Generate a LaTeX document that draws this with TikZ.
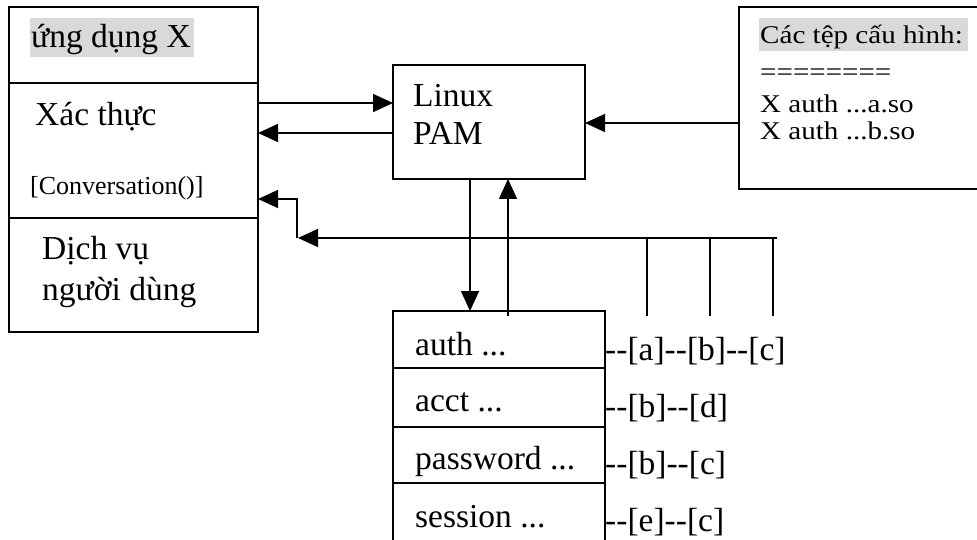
\documentclass[tikz,border=0pt]{standalone}
\usepackage{fontspec}
\setmainfont{Liberation Serif}
\newfontfamily\cfgfont[FakeStretch=1.14]{Liberation Serif}
\usetikzlibrary{arrows.meta}
\definecolor{hl}{HTML}{D9D9D9}
\begin{document}
\begin{tikzpicture}[x=1pt,y=-1pt,
  box/.style={draw, line width=1.6pt, anchor=north west, inner sep=0pt, outer sep=0pt},
  hlbox/.style={fill=hl, anchor=north west, inner sep=0pt, outer sep=0pt},
  txt/.style={anchor=base west, inner sep=0pt, font=\fontsize{33.5}{38}\selectfont},
  small/.style={anchor=base west, inner sep=0pt, font=\fontsize{26}{30}\selectfont},
  cfg/.style={anchor=base west, inner sep=0pt, font=\cfgfont\fontsize{25.5}{28}\selectfont},
  wire/.style={line width=1.6pt},
  arr/.style={wire, -{Triangle[length=20pt,width=18pt]}},
]
\useasboundingbox (0,0) rectangle (977,540);

% application X: three stacked sections
\node[box, minimum width=249pt, minimum height=76pt]  (apptitle) at (9,7) {};
\node[box, minimum width=249pt, minimum height=135pt] (appauth)  at (9,83) {};
\node[box, minimum width=249pt, minimum height=114pt] (appsvc)   at (9,218) {};
\node[hlbox, minimum width=164pt, minimum height=39pt] (apphl) at (30,18) {};
\node[txt] (appname) at (31,48) {ứng dụng X};
\node[txt] (authtxt) at (35,126) {Xác thực};
\node[small] (convtxt) at (30,195) {[Conversation()]};
\node[txt] (svc1) at (42,259) {Dịch vụ};
\node[txt] (svc2) at (42,300) {người dùng};

% Linux PAM
\node[box, minimum width=192pt, minimum height=114pt] (pam) at (393,65) {};
\node[txt] (pam1) at (413,107) {Linux};
\node[txt] (pam2) at (413,145) {PAM};

% configuration files
\node[box, minimum width=260pt, minimum height=182pt] (cfgbox) at (739,7) {};
\node[hlbox, minimum width=209pt, minimum height=33pt] (cfghl) at (759,18) {};
\node[cfg] (cfg1) at (760,44) {Các tệp cấu hình:};
\node[cfg] (cfg2) at (760,81) {========};
\node[cfg] (cfg3) at (760,113) {X auth ...a.so};
\node[cfg] (cfg4) at (760,140) {X auth ...b.so};

% module stack
\node[box, minimum width=212pt, minimum height=57pt] (mauth) at (393,311) {};
\node[box, minimum width=212pt, minimum height=59pt] (macct) at (393,368) {};
\node[box, minimum width=212pt, minimum height=56pt] (mpass) at (393,427) {};
\node[box, minimum width=212pt, minimum height=65pt] (msess) at (393,483) {};
\node[txt] (tauth) at (415,355) {auth ...};
\node[txt] (tacct) at (415,411) {acct ...};
\node[txt] (tpass) at (415,469) {password ...};
\node[txt] (tsess) at (415,527) {session ...};
\node[txt] (lauth) at (605,360) {-{}-[a]-{}-[b]-{}-[c]};
\node[txt] (lacct) at (605,417) {-{}-[b]-{}-[d]};
\node[txt] (lpass) at (605,474) {-{}-[b]-{}-[c]};
\node[txt] (lsess) at (605,531) {-{}-[e]-{}-[c]};

% connectors between application and PAM
\coordinate (req) at ([yshift=-20pt]appauth.north east);
\coordinate (rep) at ([yshift=-50pt]appauth.north east);
\draw[arr] (req) -- (req -| pam.west);
\draw[arr] (rep -| pam.west) -- (rep);

% configuration read by PAM
\coordinate (cfgin) at ([yshift=-116pt]cfgbox.north west);
\draw[arr] (cfgin) -- (cfgin -| pam.east);

% PAM to and from the module stack
\coordinate (down) at ([xshift=77pt]pam.south west);
\coordinate (up)   at ([xshift=115pt]pam.south west);
\draw[arr] (down) -- (down |- mauth.north);
\draw[arr] ([yshift=-5pt]up |- mauth.north) -- (up);

% conversation bus from the modules back to the application
\coordinate (busR) at (777,238);
\coordinate (bend) at (298,238);
\coordinate (conv) at ([yshift=-116pt]appauth.north east);
\draw[wire] (647,238) -- (647,316);
\draw[wire] (710,238) -- (710,316);
\draw[wire] (773,238) -- (773,316);
\draw[arr] (busR) -- (bend);
\draw[arr] ([xshift=-1pt]bend) |- (conv);
\end{tikzpicture}
\end{document}
